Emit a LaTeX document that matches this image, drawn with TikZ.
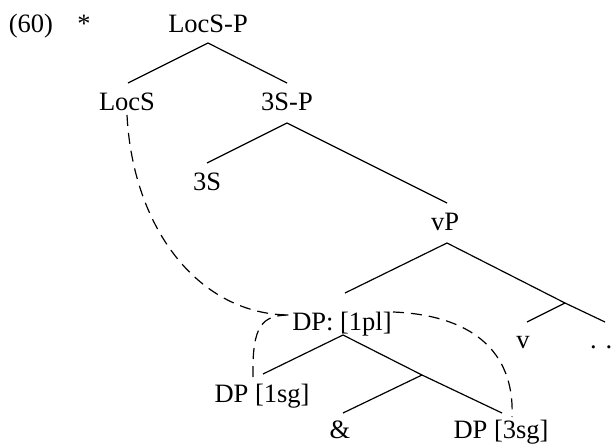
\documentclass[tikz,border=0pt]{standalone}
\usepackage{fontspec}
\setmainfont{Liberation Serif}
\usetikzlibrary{calc}
\begin{document}
\begin{tikzpicture}[x=1pt,y=-1pt,
  lbl/.style={anchor=base,inner sep=0pt,font=\fontsize{26.5}{30}\selectfont},
  branch/.style={line width=1.2pt},
  link/.style={line width=1.2pt,dash pattern=on 11pt off 7pt}]
\useasboundingbox (0,0) rectangle (613,447);
\node[lbl] (num) at (31,32) {(60)};
\node[lbl] (star) at (84,32) {*};
\node[lbl] (locsp) at (208,32) {LocS-P};
\node[lbl] (locs) at (127,110) {LocS};
\node[lbl] (tsp) at (287,110) {3S-P};
\node[lbl] (ts) at (207,190) {3S};
\node[lbl] (vp) at (445,230) {vP};
\node[lbl] (dpl) at (342,330) {DP: [1pl]};
\node[lbl] (v) at (523,348) {v};
\node[lbl] (dots) at (609,348) {. . .};
\node[lbl] (dpa) at (262,402) {DP [1sg]};
\node[lbl] (amp) at (340,438) {\&};
\node[lbl] (dpb) at (501,438) {DP [3sg]};
\coordinate (vbar) at (565,303);
\coordinate (andbar) at (422,375);
% tree branches
\draw[branch] ($(locsp.base)+(0,11)$) -- ($(locs.base)+(1,-27)$);
\draw[branch] ($(locsp.base)+(0,11)$) -- ($(tsp.base)+(0,-27)$);
\draw[branch] ($(tsp.base)+(0,13)$) -- ($(ts.base)+(0,-27)$);
\draw[branch] ($(tsp.base)+(0,13)$) -- ($(vp.base)+(2,-27)$);
\draw[branch] ($(vp.base)+(2,13)$) -- ($(dpl.base)+(3,-37)$);
\draw[branch] ($(vp.base)+(2,13)$) -- (vbar) -- ($(dots.base)+(-4,-26)$);
\draw[branch] (vbar) -- ($(v.base)+(4,-26)$);
\draw[branch] ($(dpl.base)+(1,5)$) -- ($(dpa.base)+(1,-28)$);
\draw[branch] ($(dpl.base)+(1,5)$) -- (andbar) -- ($(dpb.base)+(1,-25)$);
\draw[branch] (andbar) -- ($(amp.base)+(3,-25)$);
% dashed links
\draw[link] ($(locs.base)+(0,5)$) .. controls (133,230) and (200,315) .. ($(dpl.base)+(-52,-15)$);
\draw[link] ($(dpa.base)+(-9,-25)$) .. controls (252,325) and (262,315) .. ($(dpl.base)+(-52,-15)$);
\draw[link] ($(dpl.base)+(51,-18)$) .. controls (470,315) and (515,350) .. ($(dpb.base)+(11,-21)$);
\end{tikzpicture}
\end{document}
